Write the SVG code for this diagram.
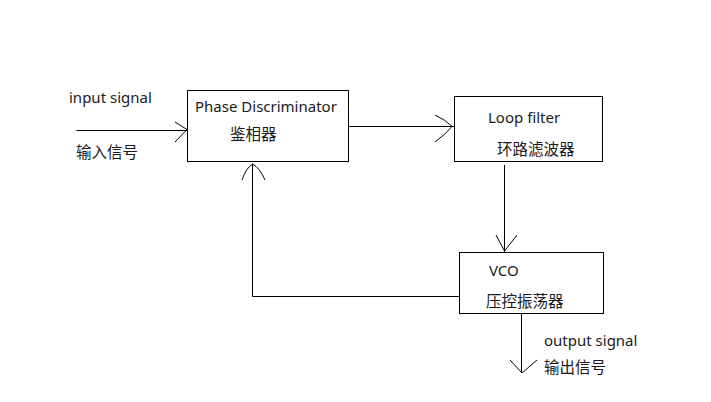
<svg xmlns="http://www.w3.org/2000/svg" width="711" height="402" viewBox="0 0 711 402">
<style>
.box{fill:#fff;stroke:#000;stroke-width:1}
.ln{fill:none;stroke:#000;stroke-width:1}
.t{font-family:"Noto Sans","Noto Sans CJK SC",sans-serif;font-size:15px;fill:#1a1a1a}
.c{font-family:"Noto Sans CJK SC",sans-serif;font-size:15.5px;fill:#1a1a1a}
</style>
<rect width="711" height="402" fill="#fff"/>
<g id="connectors">
<path class="ln" d="M76.5,130.5 H187"/>
<path class="ln" d="M175,122 L187,129.5 L175,142"/>
<path class="ln" d="M348,126.5 H454"/>
<path class="ln" d="M435,115 Q446,120 452,126.5 Q446,134 435,142"/>
<path class="ln" d="M504.5,165 V252"/>
<path class="ln" d="M496,235 L504.5,251 L517,235"/>
<path class="ln" d="M459,296.5 H252.5 V164"/>
<path class="ln" d="M242,180 Q246,168 252.5,164 Q260,168 265,180"/>
<path class="ln" d="M521.5,314 V373"/>
<path class="ln" d="M510,360 L522,373 L537,360"/>
</g>
<g id="node-pd">
<rect class="box" x="187.5" y="90.5" width="161" height="71"/>
<text class="t" x="195" y="112">Phase Discriminator</text>
<text class="c" x="230" y="140">鉴相器</text>
</g>
<g id="node-lf">
<rect class="box" x="454.5" y="96.5" width="148" height="65"/>
<text class="t" x="488" y="123">Loop filter</text>
<text class="c" x="497" y="155">环路滤波器</text>
</g>
<g id="node-vco">
<rect class="box" x="459.5" y="252.5" width="144" height="61"/>
<text class="t" x="489" y="276">VCO</text>
<text class="c" x="486" y="307">压控振荡器</text>
</g>
<g id="labels">
<text class="t" x="69" y="103">input signal</text>
<text class="c" x="76" y="158">输入信号</text>
<text class="t" x="544" y="346">output signal</text>
<text class="c" x="544" y="373">输出信号</text>
</g>
</svg>
